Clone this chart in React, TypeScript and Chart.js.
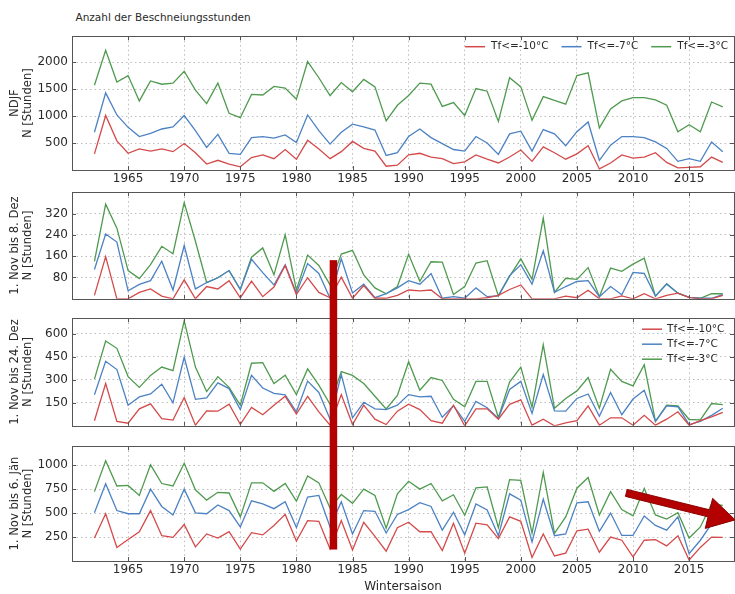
import React, { useEffect, useRef } from 'react';
import { Chart, registerables } from 'chart.js';

Chart.register(...registerables);

// ---------- data ----------
const years = [
  1962, 1963, 1964, 1965, 1966, 1967, 1968, 1969, 1970, 1971,
  1972, 1973, 1974, 1975, 1976, 1977, 1978, 1979, 1980, 1981,
  1982, 1983, 1984, 1985, 1986, 1987, 1988, 1989, 1990, 1991,
  1992, 1993, 1994, 1995, 1996, 1997, 1998, 1999, 2000, 2001,
  2002, 2003, 2004, 2005, 2006, 2007, 2008, 2009, 2010, 2011,
  2012, 2013, 2014, 2015, 2016, 2017, 2018,
];

const seriesLabels = ['Tf<=-10°C', 'Tf<=-7°C', 'Tf<=-3°C'];

// NDJF
const ndjfM10 = [
  300, 1010, 540, 310, 390, 350, 390, 340, 490, 320,
  110, 180, 110, 60, 230, 280, 210, 380, 200, 550,
  390, 210, 340, 530, 400, 350, 70, 90, 280, 310,
  240, 210, 120, 150, 280, 200, 130, 240, 370, 160,
  430, 320, 200, 300, 450, 20, 130, 280, 220, 240,
  320, 140, 40, 50, 60, 240, 140,
];
const ndjfM7 = [
  700, 1430, 1020, 790, 620, 680, 760, 800, 1010, 730,
  420, 660, 310, 290, 600, 620, 590, 650, 510, 1020,
  730, 480, 700, 850, 800, 740, 270, 320, 620, 760,
  600, 490, 380, 350, 620, 500, 290, 670, 720, 350,
  750, 670, 450, 710, 890, 180, 460, 620, 620, 600,
  520, 400, 160, 210, 160, 520, 340,
];
const ndjfM3 = [
  1570, 2220, 1630, 1750, 1280, 1650, 1590, 1610, 1830, 1480,
  1230, 1610, 1050, 970, 1400, 1390, 1550, 1520, 1310, 2010,
  1710, 1380, 1620, 1450, 1680, 1540, 910, 1200, 1380, 1610,
  1590, 1180, 1250, 1010, 1510, 1460, 900, 1710, 1540, 920,
  1360, 1290, 1220, 1750, 1800, 780, 1130, 1280, 1340, 1340,
  1300, 1200, 710, 840, 710, 1260, 1170,
];

// 1. Nov bis 8. Dez
const dez8M10 = [
  13, 158, 0, 0, 24, 37, 10, 0, 71, 0,
  46, 37, 68, 4, 66, 8, 44, 125, 16, 79,
  24, 4, 81, 2, 50, 2, 2, 13, 33, 30,
  33, 0, 0, 0, 0, 4, 13, 35, 52, 0,
  0, 0, 10, 4, 32, 0, 0, 11, 0, 19,
  0, 13, 21, 5, 0, 0, 13,
];
const dez8M7 = [
  110, 243, 213, 30, 54, 68, 141, 33, 200, 37,
  61, 79, 106, 35, 148, 98, 52, 128, 21, 132,
  95, 2, 150, 22, 55, 4, 19, 41, 68, 55,
  95, 2, 8, 2, 41, 8, 11, 87, 128, 55,
  180, 24, 46, 65, 68, 8, 46, 15, 99, 95,
  10, 55, 21, 5, 2, 2, 16,
];
const dez8M3 = [
  140, 355, 265, 106, 76, 128, 197, 169, 361, 216,
  61, 79, 106, 35, 156, 191, 90, 240, 33, 164,
  125, 52, 168, 182, 90, 41, 19, 46, 167, 66,
  139, 138, 16, 46, 134, 143, 11, 84, 150, 73,
  303, 24, 77, 73, 117, 8, 115, 103, 130, 152,
  10, 57, 21, 5, 2, 19, 19,
];

// 1. Nov bis 24. Dez
const dez24M10 = [
  33, 275, 29, 17, 110, 143, 47, 37, 184, 4,
  97, 95, 140, 10, 120, 72, 134, 192, 76, 192,
  91, 4, 203, 8, 134, 43, 8, 95, 140, 105,
  33, 17, 134, 0, 110, 110, 43, 140, 169, 4,
  43, 0, 19, 33, 130, 4, 52, 52, 4, 68,
  4, 43, 91, 4, 33, 58, 87,
];
const dez24M7 = [
  202, 420, 366, 134, 188, 207, 271, 149, 446, 172,
  182, 279, 242, 105, 329, 246, 211, 202, 91, 291,
  217, 43, 333, 52, 153, 110, 105, 134, 203, 188,
  192, 56, 130, 29, 159, 118, 48, 236, 289, 81,
  333, 97, 95, 178, 207, 62, 217, 72, 174, 231,
  29, 130, 124, 8, 29, 68, 114,
];
const dez24M3 = [
  304, 552, 504, 320, 250, 328, 382, 359, 682, 382,
  223, 320, 250, 134, 407, 411, 275, 329, 203, 370,
  265, 140, 353, 328, 275, 192, 110, 198, 417, 231,
  314, 295, 172, 124, 289, 289, 52, 285, 382, 120,
  527, 114, 178, 227, 314, 114, 368, 289, 260, 397,
  29, 134, 130, 41, 39, 145, 138,
];

// 1. Nov bis 6. Jän
const jan6M10 = [
  240, 494, 142, 224, 306, 527, 264, 247, 382, 148,
  283, 240, 306, 125, 296, 273, 372, 487, 208, 422,
  415, 125, 422, 115, 405, 257, 102, 349, 405, 306,
  306, 109, 395, 82, 395, 379, 234, 461, 415, 36,
  283, 53, 82, 316, 333, 92, 250, 217, 43, 217,
  224, 158, 264, 10, 142, 250, 247,
];
const jan6M7 = [
  504, 807, 527, 494, 494, 751, 570, 481, 751, 504,
  494, 586, 527, 356, 629, 596, 547, 619, 349, 669,
  685, 356, 619, 283, 527, 520, 293, 487, 537, 609,
  570, 323, 510, 273, 596, 534, 264, 702, 636, 198,
  646, 264, 283, 609, 619, 310, 501, 267, 267, 471,
  372, 323, 461, 76, 217, 389, 430,
];
const jan6M3 = [
  725, 1047, 784, 790, 685, 1005, 810, 784, 1021, 744,
  636, 718, 711, 461, 817, 817, 728, 810, 626, 889,
  817, 553, 695, 603, 751, 685, 344, 702, 833, 751,
  810, 629, 692, 478, 764, 774, 349, 850, 843, 290,
  926, 290, 461, 761, 873, 481, 725, 537, 471, 758,
  481, 438, 504, 240, 356, 596, 580,
];

// tick labels
const xTicks = [1965, 1970, 1975, 1980, 1985, 1990, 1995, 2000, 2005, 2010, 2015];
const ndjfTicks = [500, 1000, 1500, 2000];
const dez8Ticks = [80, 160, 240, 320];
const dez24Ticks = [150, 300, 450, 600];
const jan6Ticks = [250, 500, 750, 1000];

// annotations (data coordinates)
const markYear = 1983.3;
const markTopValue = 145; // in panel 2
const markBottomValue = 120; // in panel 4
const arrowFrom = { x: 2009.4, y: 712 }; // panel 4
const arrowTo = { x: 2019.1, y: 430 }; // panel 4

// ---------- style ----------
const W = 735;
const H = 594;
const FONT = "'DejaVu Sans', sans-serif";
const colors = ['#d44a4a', '#4c82c3', '#4f9a4f'];
const TEXT = '#2a2a2a';
const FRAME = '#555555';
const GRID = '#bdbdbd';
const MARK = '#b30000';
const PAD_TOP = 6;

type Panel = {
  top: number;
  bottom: number;
  xAxisH: number;
  xLabels: boolean;
  xTitle: boolean;
  yMax: number;
  yTicks: number[];
  yTitle: string[];
  series: number[][];
  legend: 'row' | 'col' | null;
};

const panels: Panel[] = [
  { top: 30.5, bottom: 170, xAxisH: 16, xLabels: true, xTitle: false, yMax: 2480, yTicks: ndjfTicks, yTitle: ['NDJF', 'N [Stunden]'], series: [ndjfM10, ndjfM7, ndjfM3], legend: 'row' },
  { top: 187, bottom: 307, xAxisH: 3, xLabels: false, xTitle: false, yMax: 400, yTicks: dez8Ticks, yTitle: ['1. Nov bis 8. Dez', 'N [Stunden]'], series: [dez8M10, dez8M7, dez8M3], legend: null },
  { top: 313, bottom: 434, xAxisH: 3, xLabels: false, xTitle: false, yMax: 700, yTicks: dez24Ticks, yTitle: ['1. Nov bis 24. Dez', 'N [Stunden]'], series: [dez24M10, dez24M7, dez24M3], legend: 'col' },
  { top: 441, bottom: 561, xAxisH: 33, xLabels: true, xTitle: true, yMax: 1200, yTicks: jan6Ticks, yTitle: ['1. Nov bis 6. Jän', 'N [Stunden]'], series: [jan6M10, jan6M7, jan6M3], legend: null },
];

const canvasTop = (p: Panel) => p.top - PAD_TOP;
const canvasHeight = (p: Panel) => p.bottom + p.xAxisH - canvasTop(p);

function makeFramePlugin(p: Panel) {
  return {
    id: 'frameAndLegend',
    afterDraw(chart: any) {
      const { ctx, chartArea } = chart;
      const { left, right, top, bottom } = chartArea;
      const xs = chart.scales.x;
      const ys = chart.scales.y;
      const r = (v: number) => Math.round(v) + 0.5;
      ctx.save();
      ctx.strokeStyle = FRAME;
      ctx.lineWidth = 1;
      ctx.setLineDash([]);
      ctx.strokeRect(r(left), r(top), Math.round(right) - Math.round(left), Math.round(bottom) - Math.round(top));
      ctx.beginPath();
      const tl = 4;
      xTicks.forEach((v) => {
        const px = r(xs.getPixelForValue(v));
        ctx.moveTo(px, bottom);
        ctx.lineTo(px, bottom - tl);
        ctx.moveTo(px, top);
        ctx.lineTo(px, top + tl);
      });
      p.yTicks.forEach((v) => {
        const py = r(ys.getPixelForValue(v));
        ctx.moveTo(left, py);
        ctx.lineTo(left + tl, py);
        ctx.moveTo(right, py);
        ctx.lineTo(right - tl, py);
      });
      ctx.stroke();

      // legend
      ctx.font = `10.5px ${FONT}`;
      ctx.textBaseline = 'middle';
      ctx.textAlign = 'left';
      ctx.lineWidth = 1.5;
      if (p.legend === 'row') {
        const y = top + 10.5;
        let xEnd = right - 6;
        const pos: { lx: number; tx: number }[] = [];
        for (let i = seriesLabels.length - 1; i >= 0; i--) {
          const w = ctx.measureText(seriesLabels[i]).width;
          const tx = xEnd - w;
          const lx = tx - 26;
          pos[i] = { lx, tx };
          xEnd = lx - 13;
        }
        seriesLabels.forEach((lab, i) => {
          ctx.strokeStyle = colors[i];
          ctx.beginPath();
          ctx.moveTo(pos[i].lx, y);
          ctx.lineTo(pos[i].lx + 20, y);
          ctx.stroke();
          ctx.fillStyle = TEXT;
          ctx.fillText(lab, pos[i].tx, y);
        });
      } else if (p.legend === 'col') {
        const lx = right - 92;
        seriesLabels.forEach((lab, i) => {
          const y = top + 11 + i * 15;
          ctx.strokeStyle = colors[i];
          ctx.beginPath();
          ctx.moveTo(lx, y);
          ctx.lineTo(lx + 20, y);
          ctx.stroke();
          ctx.fillStyle = TEXT;
          ctx.fillText(lab, lx + 25, y);
        });
      }
      ctx.restore();
    },
  };
}

function buildChart(canvas: HTMLCanvasElement, p: Panel) {
  return new Chart(canvas, {
    type: 'line',
    data: {
      datasets: p.series.map((vals, i) => ({
        label: seriesLabels[i],
        data: years.map((yr, j) => ({ x: yr, y: vals[j] })),
        borderColor: colors[i],
        backgroundColor: colors[i],
        borderWidth: 1.3,
        pointRadius: 0,
        tension: 0,
        fill: false,
      })),
    },
    options: {
      responsive: false,
      animation: false,
      devicePixelRatio: 1,
      events: [],
      layout: { padding: { top: PAD_TOP, right: 1, left: 0, bottom: 0 } },
      plugins: { legend: { display: false }, tooltip: { enabled: false }, title: { display: false } },
      scales: {
        x: {
          type: 'linear',
          min: 1960,
          max: 2019,
          afterBuildTicks: (s: any) => {
            s.ticks = xTicks.map((v) => ({ value: v }));
          },
          afterFit: (s: any) => {
            s.height = p.xAxisH;
          },
          grid: { color: GRID, lineWidth: 1, drawTicks: false },
          border: { display: false, dash: [1.5, 3] },
          ticks: {
            display: p.xLabels,
            padding: 2,
            color: TEXT,
            autoSkip: false,
            maxRotation: 0,
            font: { family: FONT, size: 12 },
            callback: (v: any) => String(v),
          },
          title: {
            display: p.xTitle,
            text: 'Wintersaison',
            color: TEXT,
            padding: { top: 0, bottom: 0 },
            font: { family: FONT, size: 12 },
          },
        },
        y: {
          type: 'linear',
          min: 0,
          max: p.yMax,
          afterBuildTicks: (s: any) => {
            s.ticks = p.yTicks.map((v) => ({ value: v }));
          },
          afterFit: (s: any) => {
            s.width = 72;
          },
          grid: { color: GRID, lineWidth: 1, drawTicks: false },
          border: { display: false, dash: [1.5, 3] },
          ticks: {
            padding: 4,
            color: TEXT,
            font: { family: FONT, size: 12 },
            callback: (v: any) => String(v),
          },
          title: {
            display: true,
            text: p.yTitle,
            color: TEXT,
            padding: { top: 8.6, bottom: 0 },
            font: { family: FONT, size: 11.6, lineHeight: 1.1 },
          },
        },
      },
    },
    plugins: [makeFramePlugin(p)],
  } as any);
}

export default function App() {
  const refs = useRef<(HTMLCanvasElement | null)[]>([]);
  const overlayRef = useRef<HTMLCanvasElement | null>(null);

  useEffect(() => {
    const charts = panels.map((p, i) => buildChart(refs.current[i] as HTMLCanvasElement, p));

    const ov = overlayRef.current;
    if (ov) {
      const ctx = ov.getContext('2d') as CanvasRenderingContext2D;
      ctx.clearRect(0, 0, W, H);
      const c2 = charts[1] as any;
      const c4 = charts[3] as any;
      // vertical bar
      const bx = c2.scales.x.getPixelForValue(markYear);
      const bTop = canvasTop(panels[1]) + c2.scales.y.getPixelForValue(markTopValue);
      const bBot = canvasTop(panels[3]) + c4.scales.y.getPixelForValue(markBottomValue);
      ctx.fillStyle = MARK;
      ctx.fillRect(bx - 3.75, bTop, 7.5, bBot - bTop);

      // arrow
      const off4 = canvasTop(panels[3]);
      const sx = c4.scales.x.getPixelForValue(arrowFrom.x);
      const sy = off4 + c4.scales.y.getPixelForValue(arrowFrom.y);
      const ex = c4.scales.x.getPixelForValue(arrowTo.x);
      const ey = off4 + c4.scales.y.getPixelForValue(arrowTo.y);
      const dx = ex - sx;
      const dy = ey - sy;
      const L = Math.hypot(dx, dy);
      const ux = dx / L;
      const uy = dy / L;
      const nx = -uy;
      const ny = ux;
      const hl = 27;
      const hw = 15.5;
      const sw = 3.6;
      const bxh = ex - ux * hl;
      const byh = ey - uy * hl;
      ctx.beginPath();
      ctx.moveTo(sx + nx * sw, sy + ny * sw);
      ctx.lineTo(bxh + nx * sw, byh + ny * sw);
      ctx.lineTo(bxh + nx * hw, byh + ny * hw);
      ctx.lineTo(ex, ey);
      ctx.lineTo(bxh - nx * hw, byh - ny * hw);
      ctx.lineTo(bxh - nx * sw, byh - ny * sw);
      ctx.lineTo(sx - nx * sw, sy - ny * sw);
      ctx.closePath();
      ctx.fillStyle = MARK;
      ctx.fill();
      ctx.strokeStyle = '#8c0000';
      ctx.lineWidth = 1;
      ctx.stroke();
    }

    return () => {
      charts.forEach((c) => c.destroy());
    };
  }, []);

  return (
    <div
      style={{
        position: 'absolute',
        left: 0,
        top: 0,
        width: W,
        height: H,
        overflow: 'hidden',
        background: '#ffffff',
      }}
    >
      <div
        style={{
          position: 'absolute',
          left: 75.5,
          top: 11,
          fontFamily: FONT,
          fontSize: '10.5px',
          lineHeight: '12px',
          color: TEXT,
          whiteSpace: 'nowrap',
        }}
      >
        Anzahl der Beschneiungsstunden
      </div>
      {panels.map((p, i) => (
        <canvas
          key={i}
          ref={(el) => {
            refs.current[i] = el;
          }}
          width={W}
          height={canvasHeight(p)}
          style={{ position: 'absolute', left: 0, top: canvasTop(p), width: W, height: canvasHeight(p) }}
        />
      ))}
      <canvas
        ref={overlayRef}
        width={W}
        height={H}
        style={{ position: 'absolute', left: 0, top: 0, width: W, height: H, pointerEvents: 'none' }}
      />
    </div>
  );
}
